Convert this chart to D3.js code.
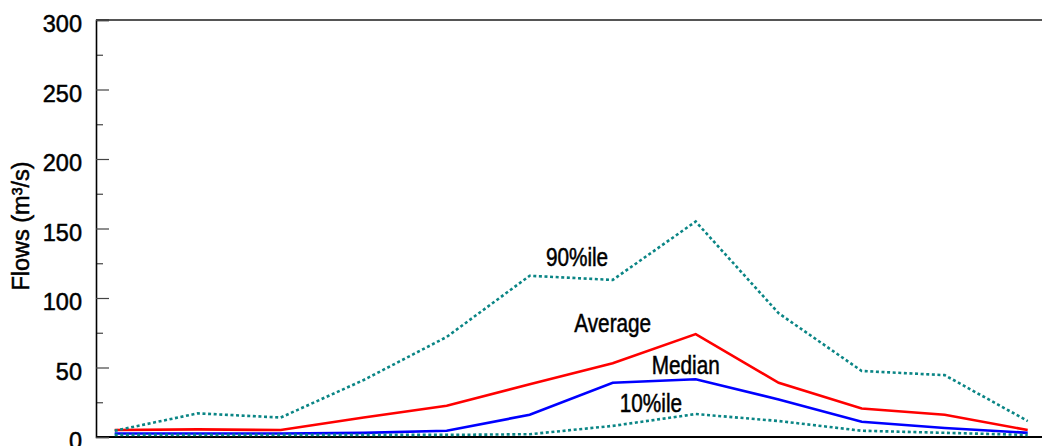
<!DOCTYPE html>
<html>
<head>
<meta charset="utf-8">
<script src="https://cdn.jsdelivr.net/npm/d3@7/dist/d3.min.js"></script>
<style>
  html, body { margin: 0; padding: 0; background: #fff; }
  svg { display: block; }
  text { font-family: "Liberation Sans", Arial, sans-serif; fill: #000; stroke: #000; stroke-width: 0.5px; }
</style>
</head>
<body>
<svg id="chart" width="1042" height="446"></svg>
<script>
// Monthly flow statistics (m³/s)
const months = ["Jan", "Feb", "Mar", "Apr", "May", "Jun", "Jul", "Aug", "Sep", "Oct", "Nov", "Dec"];
const average = [5, 5.5, 5, 14, 22.5, 38, 53, 74, 39, 20.5, 16, 5];
const median = [2.5, 2.5, 2.5, 3, 4.5, 16, 39, 41.5, 27, 11, 6.5, 3];
const pct90 = [4.5, 17, 14, 41, 72, 116, 113, 155, 89, 47.5, 44.5, 11.5];
const pct10 = [1.5, 1.5, 1.5, 1.5, 1.5, 2, 8, 16.5, 11.5, 4.5, 3, 1.5];
const yTicks = [0, 50, 100, 150, 200, 250, 300];
const yMinorTicks = [25, 75, 125, 175, 225, 275];

const series = [
  { name: "Average", values: average, color: "#ff0000", dash: null },
  { name: "Median", values: median, color: "#0000ff", dash: null },
  { name: "90%ile", values: pct90, color: "#0a8585", dash: "3,2.6" },
  { name: "10%ile", values: pct10, color: "#0a8585", dash: "3,2.6" }
];

// Label anchors: fractional month index and flow value of the baseline centre
const labels = [
  { text: "90%ile", at: 5.57, value: 123 },
  { text: "Average", at: 6.0, value: 75.5 },
  { text: "Median", at: 6.88, value: 45.1 },
  { text: "10%ile", at: 6.46, value: 18.2 }
];

const svg = d3.select("#chart");
const W = 1042;
const plotLeft = 96, plotTop = 20, plotBottom = 437;

const x = d3.scaleLinear().domain([0, months.length - 1]).range([114.7, 1027.7]);
const y = d3.scaleLinear().domain([0, 300]).range([plotBottom, plotTop]);

// Frame: top and bottom rules across the plot
svg.append("line").attr("x1", plotLeft).attr("x2", W).attr("y1", plotTop).attr("y2", plotTop)
  .attr("stroke", "#555").attr("stroke-width", 2);
svg.append("line").attr("x1", plotLeft).attr("x2", W).attr("y1", plotBottom).attr("y2", plotBottom)
  .attr("stroke", "#000").attr("stroke-width", 2);

// Minor ticks
const minorAxis = svg.append("g").attr("transform", `translate(${plotLeft},0)`)
  .call(d3.axisLeft(y).tickValues(yMinorTicks).tickSize(-7).tickFormat(""));
minorAxis.select(".domain").remove();
minorAxis.selectAll(".tick line").attr("stroke", "#444").attr("stroke-width", 1.2);

// Major ticks and labels
const yAxis = svg.append("g").attr("transform", `translate(${plotLeft},0)`)
  .call(d3.axisLeft(y).tickValues(yTicks).tickSize(-13).tickPadding(14).tickFormat(d3.format("d")));
yAxis.select(".domain").attr("stroke", "#000").attr("stroke-width", 1.6);
yAxis.selectAll(".tick line").attr("stroke", "#444").attr("stroke-width", 1.2);
yAxis.selectAll(".tick text")
  .attr("font-size", 23.5)
  .attr("font-family", "'Liberation Sans', Arial, sans-serif")
  .attr("fill", "#000")
  .attr("stroke", "#000")
  .attr("stroke-width", 0.6)
  .attr("dy", null)
  .attr("y", 11.5);

// Axis title
svg.append("text")
  .attr("transform", "translate(29,226) rotate(-90)")
  .attr("text-anchor", "middle")
  .attr("font-size", 23.5)
  .attr("stroke-width", 0.6)
  .text("Flows (m³/s)");

// Series lines
const line = d3.line().x((d, i) => x(i)).y(d => y(d));
svg.append("g").selectAll("path")
  .data(series)
  .join("path")
  .attr("d", d => line(d.values))
  .attr("fill", "none")
  .attr("stroke", d => d.color)
  .attr("stroke-width", 2.6)
  .attr("stroke-dasharray", d => d.dash)
  .attr("stroke-linejoin", "miter");

// Series labels, set in a condensed face
svg.append("g").selectAll("text")
  .data(labels)
  .join("text")
  .attr("transform", d => `translate(${x(d.at)},${y(d.value)}) scale(0.83,1)`)
  .attr("text-anchor", "middle")
  .attr("font-size", 25)
  .text(d => d.text);
</script>
</body>
</html>
